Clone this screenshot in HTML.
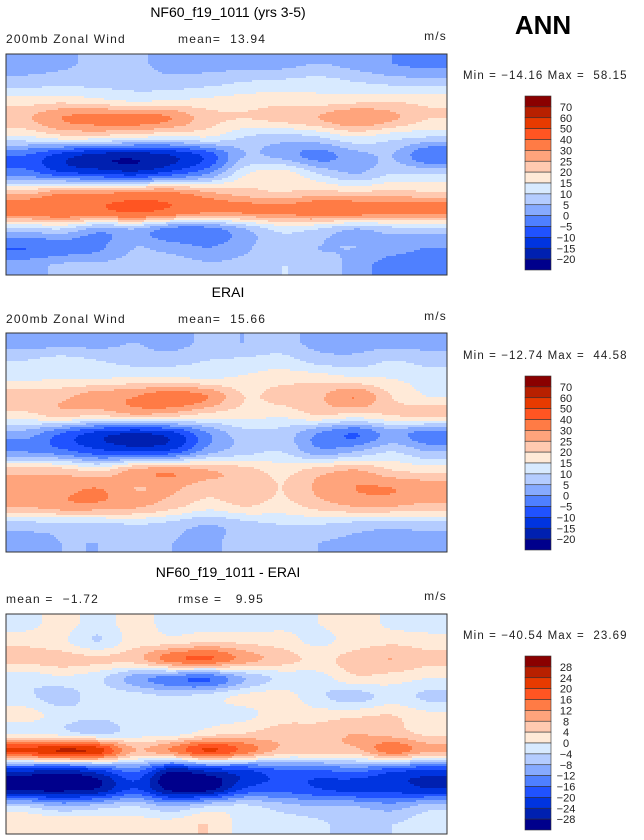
<!DOCTYPE html>
<html><head><meta charset="utf-8"><style>
html,body{margin:0;padding:0;background:#fff;}
body{width:644px;height:840px;overflow:hidden;font-family:"Liberation Sans",sans-serif;}
svg{display:block}
text{white-space:pre}
</style></head><body>
<svg id="fig" width="644" height="840" viewBox="0 0 644 840">
<text x="543" y="34" font-size="26" font-weight="bold" text-anchor="middle">ANN</text>
</svg>
<script>
const colors = ["#00008c","#0020b0","#0034e0","#2052ff","#4f80ff","#86aaff","#b4ccff","#d8eaff","#ffead8","#ffc9b0","#ffa47c","#ff7b45","#ff5522","#e83a00","#b82000","#8a0000"];
const levelsAbs = [-20,-15,-10,-5,0,5,10,15,20,25,30,40,50,60,70];
const levelsDiff = [-28,-24,-20,-16,-12,-8,-4,0,4,8,12,16,20,24,28];
const labelsAbs = ["70","60","50","40","30","25","20","15","10","5","0","\u22125","\u221210","\u221215","\u221220"];
const labelsDiff = ["28","24","20","16","12","8","4","0","\u22124","\u22128","\u221212","\u221216","\u221220","\u221224","\u221228"];
const gridModel = [
[3,4,6,6,3,3,3,3,5,3,0,-2],
[7,8,8,8,7,8,10,11,12,10,8,7],
[17,18,16,14,15,16,17,18,17,18,19,18],
[24,30,32,33,30,22,20,22,25,30,26,20],
[14,18,18,16,14,15,10,8,10,15,12,10],
[-5,-12,-17,-18,-15,-8,5,3,-2,3,5,-5],
[-2,-8,-10,-12,-7,0,14,18,10,5,10,10],
[22,28,28,30,30,25,22,20,22,20,22,20],
[35,38,38,42,38,32,32,32,35,35,33,33],
[8,10,3,5,-2,-2,5,12,10,5,8,8],
[-5,-3,-1,5,3,0,4,8,5,5,3,0],
[3,6,6,7,8,6,7,10,8,3,-3,-3]];
const gridObs = [
[2,3,3,5,3,6,5,7,3,3,3,3],
[10,12,10,8,8,10,11,12,8,7,10,8],
[14,15,15,16,16,15,16,18,18,16,15,13],
[24,24,28,30,34,30,20,22,24,30,20,15],
[18,22,20,24,22,18,17,16,20,18,20,22],
[3,-5,-12,-15,-12,0,8,8,0,-5,2,-3],
[0,-3,-8,-10,-8,3,8,10,2,5,10,5],
[22,22,18,26,28,25,22,18,22,25,20,18],
[28,28,30,25,26,22,24,20,26,30,30,28],
[25,28,28,26,22,17,20,18,22,25,25,23],
[8,8,8,10,8,5,8,10,10,8,7,8],
[3,5,5,6,5,4,7,7,5,4,3,2]];
const gridDiff = [
[-2,2,-2,2,-2,-2,-2,-1,0,2,-1,-2],
[3,1,-4,2,2,4,3,2,-1,2,3,2],
[5,6,5,6,14,16,10,6,3,6,8,5],
[-3,-1,-3,-10,-14,-16,-8,-3,-2,3,2,0],
[-3,-6,-2,-2,-4,-2,1,2,-3,-6,-2,-5],
[2,-2,-3,-1,-2,-1,-1,2,2,3,4,1],
[-1,-2,-5,-2,-2,2,4,6,6,8,6,3],
[20,24,22,8,12,20,14,6,6,6,14,8],
[-22,-24,-20,-14,-26,-22,-20,-16,-16,-14,-18,-20],
[-30,-30,-28,-20,-30,-30,-20,-18,-20,-22,-22,-24],
[-4,-8,-6,-4,-8,-4,-3,-6,-8,-8,-10,-6],
[3,4,3,2,2,4,-2,-2,-3,-6,-4,-2]];
const titles = ["NF60_f19_1011 (yrs 3-5)","ERAI","NF60_f19_1011 - ERAI"];
const subLeft = ["200mb Zonal Wind","200mb Zonal Wind","mean =  \u22121.72"];
const subMid = ["mean=  13.94","mean=  15.66","rmse =   9.95"];
const minMax = ["Min = \u221214.16 Max =  58.15","Min = \u221212.74 Max =  44.58","Min = \u221240.54 Max =  23.69"];

const NS="http://www.w3.org/2000/svg";
const svg=document.getElementById('fig');
function mk(tag,attrs,parent){const e=document.createElementNS(NS,tag);for(const k in attrs)e.setAttribute(k,attrs[k]);(parent||svg).appendChild(e);return e;}
function levelIndex(v,lv){let i=0;while(i<lv.length&&v>=lv[i])i++;return i;}
function cr(p0,p1,p2,p3,t){return 0.5*((2*p1)+(-p0+p2)*t+(2*p0-5*p1+4*p2-p3)*t*t+(-p0+3*p1-3*p2+p3)*t*t*t);}
function interp(g,fx,fy){
  const R=g.length,C=g[0].length;
  let x=fx*C-0.5,y=fy*R-0.5;
  x=Math.max(0,Math.min(C-1,x));y=Math.max(0,Math.min(R-1,y));
  const x0=Math.min(C-2,Math.floor(x)),y0=Math.min(R-2,Math.floor(y));
  const tx=x-x0,ty=y-y0;
  const cx=i=>Math.max(0,Math.min(C-1,i)),cy=i=>Math.max(0,Math.min(R-1,i));
  const rows=[];
  for(let j=-1;j<=2;j++){const r=g[cy(y0+j)];rows.push(cr(r[cx(x0-1)],r[cx(x0)],r[cx(x0+1)],r[cx(x0+2)],tx));}
  return cr(rows[0],rows[1],rows[2],rows[3],ty);
}
const panels=[{g:gridModel,lv:levelsAbs,lab:labelsAbs,t:12,s:39,m0:54,m1:275,mm:79,cb:96},
{g:gridObs,lv:levelsAbs,lab:labelsAbs,t:292,s:319,m0:333,m1:552,mm:359,cb:376},
{g:gridDiff,lv:levelsDiff,lab:labelsDiff,t:572,s:599,m0:614,m1:834,mm:639,cb:656}];
const X0=6,X1=447,B=2;
panels.forEach((p,pi)=>{
  const grp=mk('g',{});
  
  
  const t=mk('text',{x:228,y:p.t+5,'font-size':14,'text-anchor':'middle'},grp);t.textContent=titles[pi];
  
  
  const sl=mk('text',{x:6,y:p.s+4,'font-size':12,fill:'#222','letter-spacing':'1.2'},grp);sl.textContent=subLeft[pi];
  
  
  const sm=mk('text',{x:178,y:p.s+4,'font-size':12,fill:'#222','letter-spacing':'1.2'},grp);sm.textContent=subMid[pi];
  
  
  const su=mk('text',{x:447,y:p.s+1,'font-size':12,fill:'#222','text-anchor':'end','letter-spacing':'1.2'},grp);su.textContent='m/s';
  
  
  const map=mk('g',{},grp);
  
  
  const H=p.m1-p.m0,W=X1-X0;
  for(let y=0;y<H;y+=B){
    let runStart=0,runCol=null;
    for(let x=0;;x+=B){
      const done=x>=W;
      let col=null;
      if(!done){const v=interp(p.g,(x+B/2)/W,(y+B/2)/H);col=colors[levelIndex(v,p.lv)];}
      if(col!==runCol||done){
        if(runCol!==null){const r=mk('rect',{x:X0+runStart,y:p.m0+y,width:Math.min(x,W)-runStart,height:Math.min(B,H-y)+0.5,fill:runCol},map);
          
          }
        runStart=x;runCol=col;
      }
      if(done)break;
    }
  }
  const fr=mk('rect',{x:X0,y:p.m0,width:W,height:H,fill:'none',stroke:'#333','stroke-width':1},grp);
  
  
  const mmT=mk('text',{x:463,y:p.mm,'font-size':11.5,fill:'#222','letter-spacing':'1.1'},grp);mmT.textContent=minMax[pi];
  
  
  const cbg=mk('g',{},grp);
  
  
  const bh=174/16;
  for(let i=0;i<16;i++){
    const r=mk('rect',{x:525,y:p.cb+i*bh,width:26,height:bh,fill:colors[15-i],stroke:'#333','stroke-width':0.6},cbg);
    
    
  }
  p.lab.forEach((l,i)=>{
    const tx=mk('text',{x:566,y:p.cb+(i+1)*bh+4,'font-size':11,fill:'#222','text-anchor':'middle'},cbg);tx.textContent=l;
    
    
  });
});
</script>
</body></html>
